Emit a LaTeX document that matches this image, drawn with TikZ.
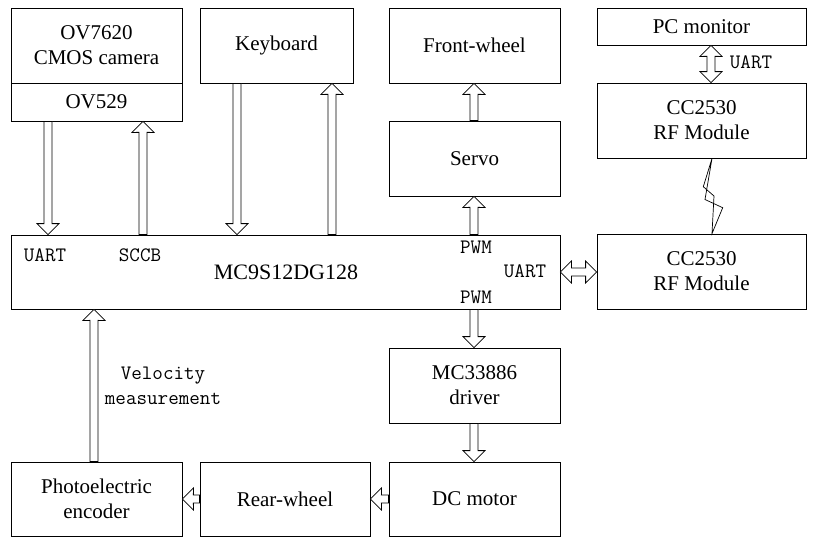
\documentclass[tikz,border=0pt]{standalone}
\usepackage{fontspec}
\setmainfont{Liberation Serif}
\usetikzlibrary{calc}
\begin{document}
\begin{tikzpicture}[x=1pt,y=-1pt, line width=0.8pt,
 box/.style={draw, minimum width=171pt, minimum height=75pt, inner sep=0pt, align=center, font=\fontsize{21}{25}\selectfont},
 lbl/.style={font=\ttfamily\fontsize{20.5}{25}\selectfont, inner sep=0pt, align=center},
 blk/.style={draw, fill=white, to path={
   ($(\tikztostart)!4pt!90:(\tikztotarget)$)
   -- ($(\tikztotarget)!11.7pt!-19.98:(\tikztostart)$)
   -- ($(\tikztotarget)!15.56pt!-45:(\tikztostart)$)
   -- (\tikztotarget)
   -- ($(\tikztotarget)!15.56pt!45:(\tikztostart)$)
   -- ($(\tikztotarget)!11.7pt!19.98:(\tikztostart)$)
   -- ($(\tikztostart)!4pt!-90:(\tikztotarget)$)
   -- cycle}},
 dblk/.style={draw, fill=white, to path={
   ($(\tikztostart)!11.7pt!19.98:(\tikztotarget)$)
   -- ($(\tikztostart)!15.56pt!45:(\tikztotarget)$)
   -- (\tikztostart)
   -- ($(\tikztostart)!15.56pt!-45:(\tikztotarget)$)
   -- ($(\tikztostart)!11.7pt!-19.98:(\tikztotarget)$)
   -- ($(\tikztotarget)!11.7pt!19.98:(\tikztostart)$)
   -- ($(\tikztotarget)!15.56pt!45:(\tikztostart)$)
   -- (\tikztotarget)
   -- ($(\tikztotarget)!15.56pt!-45:(\tikztostart)$)
   -- ($(\tikztotarget)!11.7pt!-19.98:(\tikztostart)$)
   -- cycle}}]
\useasboundingbox (0,0) rectangle (814,538);

% boxes
\node[box] (cam) at (96.5,45.5) {OV7620\\CMOS camera};
\node[box, minimum height=38pt] (ov529) at (96.5,102) {OV529};
\node[box, minimum width=153pt] (kbd) at (276.5,45.5) {Keyboard};
\node[box] (front) at (474.5,45.5) {Front-wheel};
\node[box] (servo) at (474.5,158.5) {Servo};
\node[box, minimum width=549pt, minimum height=74pt] (mcu) at (285.5,272) {};
\node[font=\fontsize{22}{26}\selectfont, inner sep=0pt] (mcutxt) at (286,272) {MC9S12DG128};
\node[box] (drv) at (474.5,385.5) {MC33886\\driver};
\node[box, minimum height=74pt] (motor) at (474.5,499) {DC motor};
\node[box, minimum width=170pt, minimum height=74pt] (rear) at (285,499) {Rear-wheel};
\node[box, minimum height=74pt] (enc) at (96.5,499) {Photoelectric\\encoder};
\node[box, minimum width=209pt, minimum height=37pt] (pc) at (701.5,26.5) {PC monitor};
\node[box, minimum width=209pt] (rf1) at (701.5,120.5) {CC2530\\RF Module};
\node[box, minimum width=209pt] (rf2) at (701.5,271.5) {CC2530\\RF Module};

% labels
\node[lbl] (l1) at (45,255) {UART};
\node[lbl] (l2) at (140,255) {SCCB};
\node[lbl] (l3) at (476,247) {PWM};
\node[lbl] (l4) at (525,271) {UART};
\node[lbl] (l5) at (476,297) {PWM};
\node[lbl] (l6) at (751,62) {UART};
\node[lbl] (l7) at (163,386) {Velocity\\measurement};

% block arrows
\draw[blk] (ov529.south -| 48,0) to (mcu.north -| 48,0);
\draw[blk] (mcu.north -| 143,0) to (ov529.south -| 143,0);
\draw[blk] (kbd.south -| 237,0) to (mcu.north -| 237,0);
\draw[blk] (mcu.north -| 332,0) to (kbd.south -| 332,0);
\draw[blk] (mcu.north -| 474,0) to (servo.south -| 474,0);
\draw[blk] (servo.north -| 474,0) to (front.south -| 474,0);
\draw[blk] (mcu.south -| 474,0) to (drv.north -| 474,0);
\draw[blk] (drv.south -| 474,0) to (motor.north -| 474,0);
\draw[blk] (motor.west) to (rear.east);
\draw[blk] (rear.west) to (enc.east);
\draw[blk] (enc.north -| 94,0) to (mcu.south -| 94,0);
\draw[dblk] (mcu.east) to (rf2.west |- mcu.east);
\draw[dblk] (pc.south -| 711,0) to (rf1.north -| 711,0);

% wireless link
\draw[line width=0.7pt, line join=miter] (rf1.south -| 712,0) -- (703.3,186.7) -- (714,196) -- (rf2.north -| 712,0) -- (722.7,207.7) -- (705,199.5) -- cycle;
\end{tikzpicture}
\end{document}
